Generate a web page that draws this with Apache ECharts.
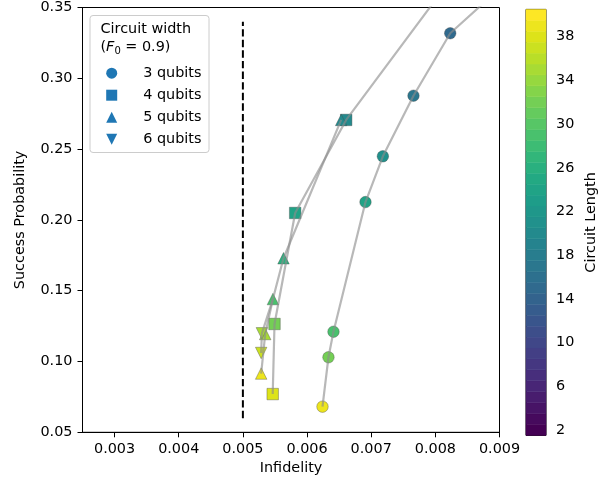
<!DOCTYPE html>
<html>
<head>
<meta charset="utf-8">
<script src="https://cdn.jsdelivr.net/npm/echarts@6/dist/echarts.min.js"></script>
<style>html,body{margin:0;padding:0;background:#fff}#c{width:607px;height:481px}</style>
</head>
<body>
<div id="c"></div>
<script>
// ---- data ----
// 3 qubits (circles); first point lies above the plotted range
const q3X   = [0.009323, 0.008232, 0.007659, 0.007182, 0.006911, 0.006412, 0.006334, 0.006241];
const q3Y   = [0.3765, 0.3318, 0.2877, 0.2449, 0.2126, 0.1210, 0.1030, 0.0681];
const q3Len = [12, 15, 17, 21, 24, 29, 32, 39];
// 4 qubits (squares)
const q4X   = [0.008232, 0.006610, 0.005815, 0.005493, 0.005465];
const q4Y   = [0.3694, 0.2706, 0.2049, 0.1265, 0.0770];
const q4Len = [14, 20, 24, 32, 38];
// 5 qubits (up triangles)
const q5X   = [0.006532, 0.005633, 0.005468, 0.005348, 0.005285];
const q5Y   = [0.2706, 0.1729, 0.1441, 0.1194, 0.0915];
const q5Len = [20, 26, 29, 35, 39];
// 6 qubits (down triangles); last point hidden beneath a 5-qubit marker
const q6X   = [0.005285, 0.005296, 0.005468];
const q6Y   = [0.1060, 0.1199, 0.1441];
const q6Len = [37, 35, 29];
const q6VisibleMarkers = 2;
// threshold line
const thresholdX = 0.005;
const thresholdY = [0.06, 0.34];
// axis ticks
const xTicks = [0.003, 0.004, 0.005, 0.006, 0.007, 0.008, 0.009];
const cbLevels = [2,3,4,5,6,7,8,9,10,11,12,13,14,15,16,17,18,19,20,21,22,23,24,25,26,27,28,29,30,31,32,33,34,35,36,37,38,39,40];
const cbLabels = [2, 6, 10, 14, 18, 22, 26, 30, 34, 38];
const legendNames = ['3 qubits', '4 qubits', '5 qubits', '6 qubits'];

const viridis = ['#440154','#471365','#482475','#463480','#414487','#3b528b','#355f8d','#2f6c8e','#2a788e','#25848e','#21918c','#1e9c89','#22a884','#2fb47c','#44bf70','#5ec962','#7ad151','#9bd93c','#bddf26','#dfe318','#fde725'];

const FONT = 'DejaVu Sans';
const FS = 14.4;
const txt = '#000';
const zip = (xs, ys) => xs.map((x, i) => [x, ys[i]]);
const zip3 = (xs, ys, cs) => xs.map((x, i) => [x, ys[i], cs[i]]);

const lineStyle = {color: 'rgba(140,140,140,0.62)', width: 2.2};
function lineSeries(xs, ys) {
  return {type: 'line', xAxisIndex: 0, yAxisIndex: 0, data: zip(xs, ys), symbol: 'none',
    showSymbol: false, lineStyle: lineStyle, z: 5, silent: true, animation: false};
}
const markerStyle = {borderColor: 'rgba(70,70,70,0.55)', borderWidth: 0.7, opacity: 1};
function scatterSeries(name, symbol, data, rot) {
  return {type: 'scatter', name: name, xAxisIndex: 0, yAxisIndex: 0, data: data, symbol: symbol,
    symbolSize: 11.5, symbolRotate: rot || 0, itemStyle: markerStyle, z: 3, animation: false};
}

const chart = echarts.init(document.getElementById('c'), null, {renderer: 'canvas'});
const option = {
  animation: false,
  backgroundColor: '#fff',
  textStyle: {fontFamily: FONT},
  grid: [
    {left: 82.5, top: 7.5, width: 417, height: 424.8, show: true, borderColor: '#000', borderWidth: 1, backgroundColor: 'transparent'},
    {left: 526, top: 9.4, width: 20, height: 426, show: true, borderColor: '#000', borderWidth: 1, backgroundColor: 'transparent'}
  ],
  xAxis: [
    {type: 'value', gridIndex: 0, min: 0.0025, max: 0.009,
      name: 'Infidelity', nameLocation: 'middle', nameGap: 28,
      nameTextStyle: {fontSize: FS, color: txt, fontFamily: FONT},
      axisLine: {show: true, onZero: false, lineStyle: {color: '#000', width: 1}},
      axisTick: {show: true, inside: false, length: 5, customValues: xTicks, lineStyle: {color: '#000'}},
      axisLabel: {show: true, customValues: xTicks, margin: 10, fontSize: FS, color: txt, fontFamily: FONT,
        formatter: v => v.toFixed(3)},
      splitLine: {show: false}},
    {type: 'value', gridIndex: 1, min: 0, max: 1, show: false}
  ],
  yAxis: [
    {type: 'value', gridIndex: 0, min: 0.05, max: 0.35, interval: 0.05,
      name: 'Success Probability', nameLocation: 'middle', nameGap: 55, nameRotate: 90,
      nameTextStyle: {fontSize: FS, color: txt, fontFamily: FONT},
      axisLine: {show: true, onZero: false, lineStyle: {color: '#000', width: 1}},
      axisTick: {show: true, inside: false, length: 5, lineStyle: {color: '#000'}},
      axisLabel: {margin: 10, fontSize: FS, color: txt, fontFamily: FONT, formatter: v => v.toFixed(2)},
      splitLine: {show: false}},
    {type: 'value', gridIndex: 1, min: 1.5, max: 40.5, position: 'right',
      name: 'Circuit Length', nameLocation: 'middle', nameGap: 38, nameRotate: 90,
      nameTextStyle: {fontSize: FS, color: txt, fontFamily: FONT},
      axisLine: {show: true, lineStyle: {color: '#000', width: 1}},
      axisTick: {show: true, inside: false, length: 4, customValues: cbLevels, lineStyle: {color: '#000'}},
      axisLabel: {customValues: cbLabels, margin: 10, fontSize: FS, color: txt, fontFamily: FONT},
      splitLine: {show: false}}
  ],
  visualMap: [{
    type: 'continuous', show: false, min: 2, max: 40, dimension: 2,
    seriesIndex: [5, 6, 7, 8, 9], inRange: {color: viridis}
  }],
  legend: {
    show: true, orient: 'vertical', left: 101.2, top: 61.2, itemWidth: 11, itemHeight: 11, itemGap: 8,
    selectedMode: false, z: 10,
    textStyle: {fontSize: FS, color: txt, fontFamily: FONT, padding: [0, 0, 0, 21]},
    data: [
      {name: legendNames[0], icon: 'circle', itemStyle: {color: '#1f77b4', borderWidth: 0}},
      {name: legendNames[1], icon: 'rect', itemStyle: {color: '#1f77b4', borderWidth: 0}},
      {name: legendNames[2], icon: 'triangle', itemStyle: {color: '#1f77b4', borderWidth: 0}},
      {name: legendNames[3], icon: 'path://M0,0L2,0L1,2Z', itemStyle: {color: '#1f77b4', borderWidth: 0}}
    ]
  },
  graphic: [
    {type: 'rect', left: 89.5, top: 15, z: 2, shape: {width: 119, height: 137, r: 3},
      style: {fill: 'rgba(255,255,255,0.8)', stroke: '#cccccc', lineWidth: 1}},
    {type: 'text', left: 100.5, top: 22, z: 6, style: {text: 'Circuit width', fontSize: FS, fontFamily: FONT, fill: txt}},
    {type: 'text', left: 100.5, top: 40.5, z: 6, style: {
      text: '({i|F}{s|0} = 0.9)', fontSize: FS, fontFamily: FONT, fill: txt,
      rich: {i: {fontStyle: 'italic', fontSize: FS, fontFamily: FONT, fill: txt},
             s: {fontSize: 10, fontFamily: FONT, fill: txt, padding: [7, 0, 0, 0]}}}}
  ],
  series: [
    lineSeries(q3X, q3Y),
    lineSeries(q4X, q4Y),
    lineSeries(q5X, q5Y),
    lineSeries(q6X, q6Y),
    {type: 'line', xAxisIndex: 0, yAxisIndex: 0, data: thresholdY.map(y => [thresholdX, y]), symbol: 'none',
      lineStyle: {color: '#000', width: 2, type: [7.4, 3.2]}, z: 4, silent: true},
    scatterSeries(legendNames[0], 'circle', zip3(q3X, q3Y, q3Len)),
    scatterSeries(legendNames[1], 'rect', zip3(q4X, q4Y, q4Len)),
    scatterSeries(legendNames[2], 'triangle', zip3(q5X, q5Y, q5Len)),
    scatterSeries(legendNames[3], 'triangle', zip3(q6X, q6Y, q6Len).slice(0, q6VisibleMarkers), 180),
    {type: 'custom', xAxisIndex: 1, yAxisIndex: 1, data: cbLevels.map(v => [0.5, v, v]),
      encode: {x: 0, y: 1}, silent: true,
      renderItem: function (params, api) {
        const v = api.value(1);
        const p0 = api.coord([0, v - 0.5]);
        const p1 = api.coord([1, v + 0.5]);
        const c = api.visual('color');
        return {type: 'rect', shape: {x: p0[0], y: p1[1], width: p1[0] - p0[0], height: p0[1] - p1[1]},
          style: {fill: c, stroke: c, lineWidth: 0.5}};
      }}
  ]
};
chart.setOption(option);
</script>
</body>
</html>
